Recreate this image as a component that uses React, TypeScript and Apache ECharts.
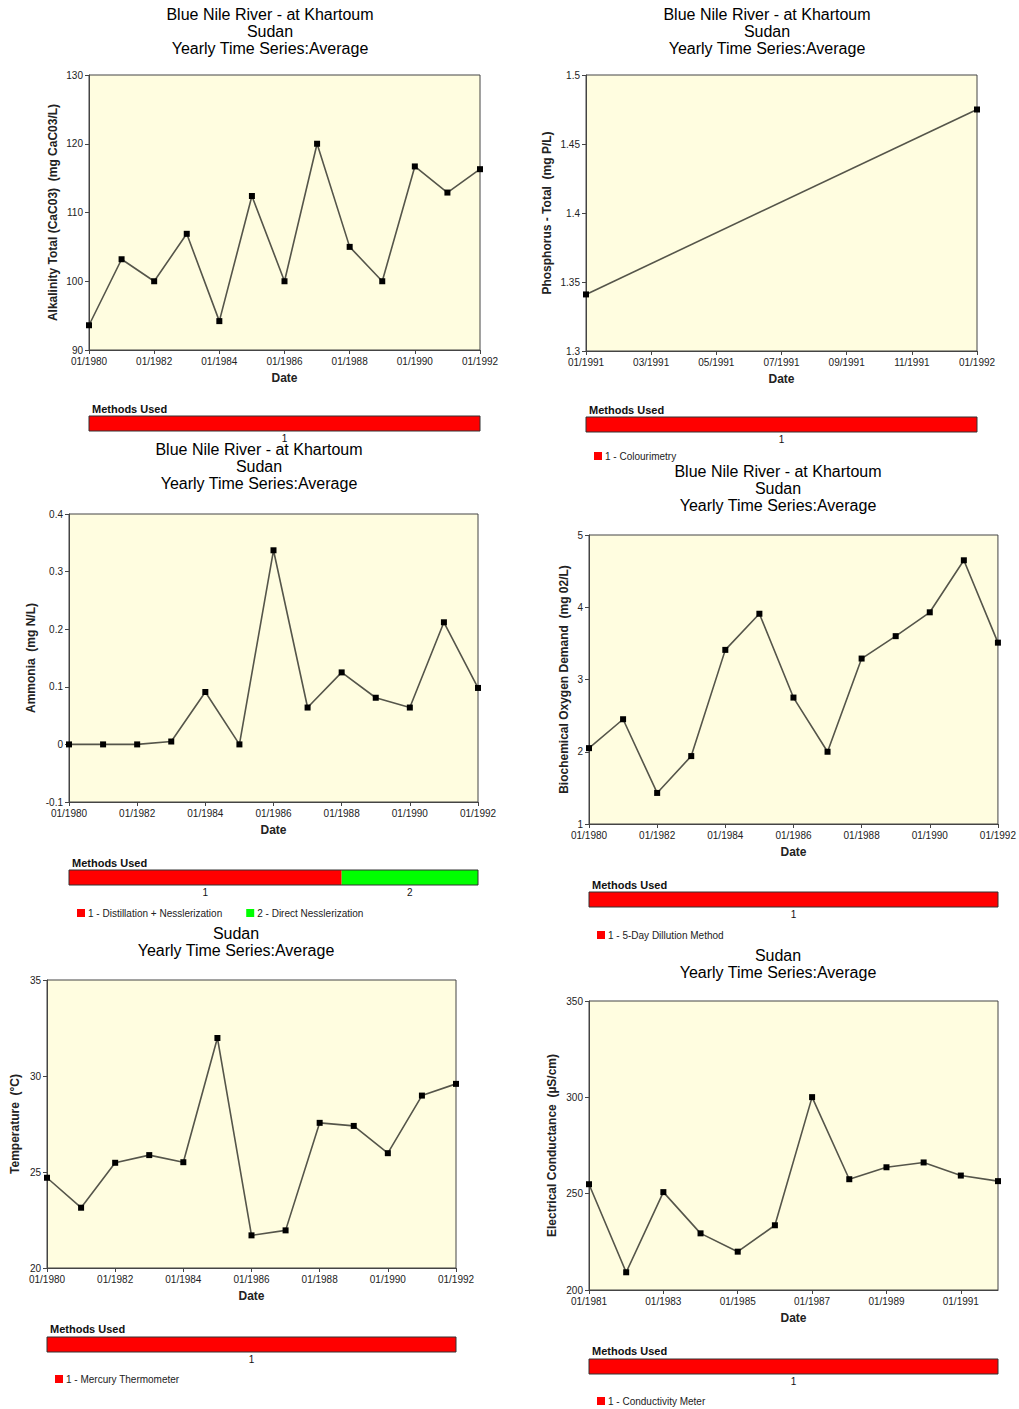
import React, { useEffect, useRef } from 'react';
import * as echarts from 'echarts';

const FONT = '"Liberation Sans", Arial, Helvetica, sans-serif';

// ---------- data ----------
const yearsMain = [1980, 1981, 1982, 1983, 1984, 1985, 1986, 1987, 1988, 1989, 1990, 1991, 1992];
const alkalinity = [93.6, 103.2, 100, 106.9, 94.2, 112.4, 100, 120, 105, 100, 116.7, 112.9, 116.3];

const phosMonths = [0, 12]; // months after 01/1991
const phosphorus = [1.341, 1.475];

const ammonia = [0, 0, 0, 0.005, 0.091, 0, 0.337, 0.064, 0.125, 0.081, 0.064, 0.212, 0.098];
const bod = [2.05, 2.45, 1.43, 1.94, 3.41, 3.91, 2.75, 2.0, 3.29, 3.6, 3.93, 4.65, 3.51];
const temperature = [24.7, 23.14, 25.48, 25.88, 25.51, 31.98, 21.7, 21.96, 27.56, 27.4, 25.98, 28.98, 29.59];

const yearsEC = [1981, 1982, 1983, 1984, 1985, 1986, 1987, 1988, 1989, 1990, 1991, 1992];
const conductance = [254.9, 209.2, 250.8, 229.4, 219.9, 233.6, 300.1, 257.5, 263.7, 266.2, 259.4, 256.5];

// methods: [code, legend text, from, to]
const alkMethods: [string, string, number, number][] = [['1', 'alk-1', 1980, 1992]];
const phosMethods: [string, string, number, number][] = [['1', '1 - Colourimetry', 0, 12]];
const ammMethods: [string, string, number, number][] = [
  ['1', '1 - Distillation + Nesslerization', 1980, 1988],
  ['2', '2 - Direct Nesslerization', 1988, 1992],
];
const bodMethods: [string, string, number, number][] = [['1', '1 - 5-Day Dillution Method', 1980, 1992]];
const tempMethods: [string, string, number, number][] = [['1', '1 - Mercury Thermometer', 1980, 1992]];
const ecMethods: [string, string, number, number][] = [['1', '1 - Conductivity Meter', 1981, 1992]];

const TITLE_FULL = 'Blue Nile River - at Khartoum\nSudan\nYearly Time Series:Average';
const TITLE_PART = 'Sudan\nYearly Time Series:Average';

const methodColors: Record<string, string> = { '1': '#FF0000', '2': '#00FF00' };

const yearFmt = (base: number) => (v: number) => `01/${base + Math.round(v)}`;
const monthFmt = (base: number) => (v: number) => {
  const m = Math.round(v);
  const mon = (m % 12) + 1;
  const yr = base + Math.floor(m / 12);
  return `${mon < 10 ? '0' : ''}${mon}/${yr}`;
};
const numFmt = (v: number) => String(Math.round(v * 10000) / 10000);

interface Panel {
  title: string;
  titleX: number;
  titleY: number;
  grid: { left: number; top: number; width: number; height: number };
  xs: number[];
  ys: number[];
  xBase: number;
  xSpan: number;
  xInterval: number;
  xFmt: (v: number) => string;
  yMin: number;
  yMax: number;
  yInterval: number;
  yName: string;
  yGap: number;
  methods: [string, string, number, number][];
  mTop: number;
  mLabelTop: number;
  legend: boolean;
  legendX: number;
  legendY: number;
}

const panels: Panel[] = [
  {
    title: TITLE_FULL, titleX: 270, titleY: 6,
    grid: { left: 89, top: 75, width: 391, height: 275 },
    xs: yearsMain, ys: alkalinity, xBase: 1980, xSpan: 12, xInterval: 2, xFmt: yearFmt(1980),
    yMin: 90, yMax: 130, yInterval: 10, yName: 'Alkalinity Total (CaC03)  (mg CaC03/L)', yGap: 30,
    methods: alkMethods, mTop: 416, mLabelTop: 403, legend: false, legendX: 0, legendY: 0,
  },
  {
    title: TITLE_FULL, titleX: 767, titleY: 6,
    grid: { left: 586, top: 75, width: 391, height: 276 },
    xs: phosMonths, ys: phosphorus, xBase: 0, xSpan: 12, xInterval: 2, xFmt: monthFmt(1991),
    yMin: 1.3, yMax: 1.5, yInterval: 0.05, yName: 'Phosphorus - Total  (mg P/L)', yGap: 33,
    methods: phosMethods, mTop: 417, mLabelTop: 404, legend: true, legendX: 594, legendY: 451,
  },
  {
    title: TITLE_FULL, titleX: 259, titleY: 441,
    grid: { left: 69, top: 514, width: 409, height: 288 },
    xs: yearsMain, ys: ammonia, xBase: 1980, xSpan: 12, xInterval: 2, xFmt: yearFmt(1980),
    yMin: -0.1, yMax: 0.4, yInterval: 0.1, yName: 'Ammonia  (mg N/L)', yGap: 32,
    methods: ammMethods, mTop: 870, mLabelTop: 857, legend: true, legendX: 77, legendY: 908,
  },
  {
    title: TITLE_FULL, titleX: 778, titleY: 463,
    grid: { left: 589, top: 535, width: 409, height: 289 },
    xs: yearsMain, ys: bod, xBase: 1980, xSpan: 12, xInterval: 2, xFmt: yearFmt(1980),
    yMin: 1, yMax: 5, yInterval: 1, yName: 'Biochemical Oxygen Demand  (mg 02/L)', yGap: 19,
    methods: bodMethods, mTop: 892, mLabelTop: 879, legend: true, legendX: 597, legendY: 930,
  },
  {
    title: TITLE_PART, titleX: 236, titleY: 925,
    grid: { left: 47, top: 980, width: 409, height: 288 },
    xs: yearsMain, ys: temperature, xBase: 1980, xSpan: 12, xInterval: 2, xFmt: yearFmt(1980),
    yMin: 20, yMax: 35, yInterval: 5, yName: 'Temperature  (°C)', yGap: 26,
    methods: tempMethods, mTop: 1337, mLabelTop: 1323, legend: true, legendX: 55, legendY: 1374,
  },
  {
    title: TITLE_PART, titleX: 778, titleY: 947,
    grid: { left: 589, top: 1001, width: 409, height: 289 },
    xs: yearsEC, ys: conductance, xBase: 1981, xSpan: 11, xInterval: 2, xFmt: yearFmt(1981),
    yMin: 200, yMax: 350, yInterval: 50, yName: 'Electrical Conductance  (µS/cm)', yGap: 31,
    methods: ecMethods, mTop: 1359, mLabelTop: 1345, legend: true, legendX: 597, legendY: 1396,
  },
];

function buildOption(): any {
  const grid: any[] = [];
  const xAxis: any[] = [];
  const yAxis: any[] = [];
  const series: any[] = [];
  const title: any[] = [];
  const legend: any[] = [];

  panels.forEach((p, i) => {
    const gi = i * 2;
    const mi = i * 2 + 1;
    grid.push({
      ...p.grid,
      show: true,
      backgroundColor: '#FFFDE0',
      borderColor: '#444',
      borderWidth: 1,
      containLabel: false,
    });
    grid.push({
      left: p.grid.left, width: p.grid.width, top: p.mTop, height: 15,
      show: true, backgroundColor: 'transparent', borderColor: '#333', borderWidth: 1, z: 10,
    });
    xAxis.push({
      gridIndex: gi,
      type: 'value',
      min: 0,
      max: p.xSpan,
      interval: p.xInterval,
      axisLine: { show: true, onZero: false, lineStyle: { color: '#444', width: 1 } },
      axisTick: { show: true, length: 4, lineStyle: { color: '#444' } },
      axisLabel: {
        fontSize: 10, color: '#222', margin: 6, fontFamily: FONT,
        formatter: p.xFmt, showMaxLabel: (p.xSpan % p.xInterval) === 0,
      },
      splitLine: { show: false },
      name: 'Date',
      nameLocation: 'middle',
      nameGap: 22,
      nameTextStyle: { fontSize: 12, fontWeight: 'bold', color: '#222', fontFamily: FONT },
    });
    yAxis.push({
      gridIndex: gi,
      type: 'value',
      min: p.yMin,
      max: p.yMax,
      interval: p.yInterval,
      axisLine: { show: true, onZero: false, lineStyle: { color: '#444', width: 1 } },
      axisTick: { show: true, length: 4, lineStyle: { color: '#444' } },
      axisLabel: { fontSize: 10, color: '#222', margin: 6, fontFamily: FONT, formatter: numFmt },
      splitLine: { show: false },
      name: p.yName,
      nameLocation: 'middle',
      nameGap: p.yGap,
      nameTextStyle: { fontSize: 12, fontWeight: 'bold', color: '#222', fontFamily: FONT },
    });
    xAxis.push({
      gridIndex: mi, type: 'value', min: 0, max: p.xSpan, show: false,
    });
    yAxis.push({
      gridIndex: mi, type: 'category', data: ['m'], show: false,
    });
    series.push({
      type: 'line',
      name: `series-${i}`,
      xAxisIndex: gi,
      yAxisIndex: gi,
      data: p.xs.map((x, j) => [x - p.xBase, p.ys[j]]),
      symbol: 'rect',
      symbolSize: 6,
      itemStyle: { color: '#000' },
      lineStyle: { color: '#55554a', width: 1.6 },
      clip: false,
      silent: true,
      z: 3,
    });
    p.methods.forEach(([code, name, from, to]) => {
      series.push({
        type: 'bar',
        name,
        xAxisIndex: mi,
        yAxisIndex: mi,
        stack: `methods-${i}`,
        data: [to - from],
        barWidth: '100%',
        itemStyle: { color: methodColors[code] },
        label: {
          show: true, position: 'bottom', distance: 2, formatter: code,
          fontSize: 10, color: '#111', fontFamily: FONT,
        },
        silent: true,
      });
    });
    title.push({
      text: p.title,
      left: p.titleX,
      top: p.titleY,
      textAlign: 'center',
      padding: 0,
      textStyle: { fontSize: 16, fontWeight: 'normal', color: '#000', lineHeight: 17, fontFamily: FONT },
    });
    title.push({
      text: 'Methods Used',
      left: p.grid.left + 3,
      top: p.mLabelTop,
      padding: 0,
      textStyle: { fontSize: 11, fontWeight: 'bold', color: '#111', fontFamily: FONT },
    });
    if (p.legend) {
      legend.push({
        data: p.methods.map((m) => m[1]),
        left: p.legendX,
        top: p.legendY,
        padding: 0,
        icon: 'rect',
        itemWidth: 8,
        itemHeight: 8,
        itemGap: 24,
        selectedMode: false,
        itemStyle: { borderWidth: 0 },
        textStyle: { fontSize: 10, color: '#222', fontFamily: FONT, padding: [0, 0, 0, -2] },
      });
    }
  });

  return {
    animation: false,
    backgroundColor: '#ffffff',
    textStyle: { fontFamily: FONT },
    title,
    legend,
    grid,
    xAxis,
    yAxis,
    series,
  };
}

export default function App() {
  const ref = useRef<HTMLDivElement>(null);
  useEffect(() => {
    if (!ref.current) return;
    const chart = echarts.init(ref.current, undefined, { renderer: 'svg' });
    chart.setOption(buildOption());
    return () => chart.dispose();
  }, []);
  return (
    <div
      ref={ref}
      style={{ position: 'absolute', left: 0, top: 0, width: 1019, height: 1409, background: '#fff' }}
    />
  );
}
